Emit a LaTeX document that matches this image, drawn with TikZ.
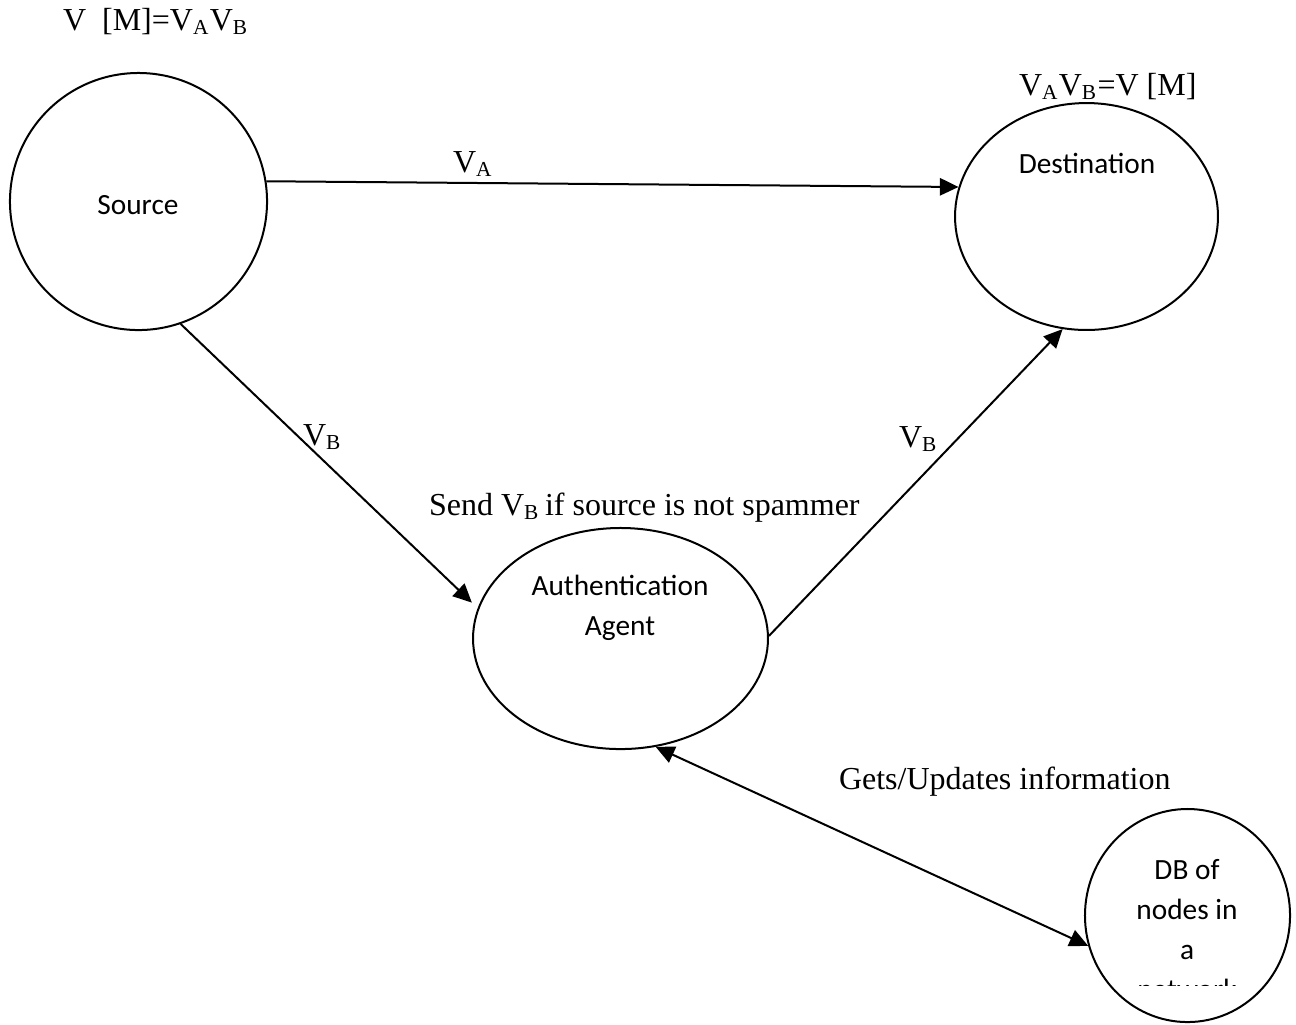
\documentclass[tikz,border=0pt]{standalone}
\usepackage{fontspec}
\setmainfont{Liberation Serif}
\newfontfamily\calibri{Carlito}
\usetikzlibrary{positioning, shapes.geometric, arrows.meta}

\begin{document}
\begin{tikzpicture}
		[x=0.375pt, y=-0.375pt, line width=0.75pt,
		 party/.style={draw, ellipse, inner sep=0pt},
		 flow/.style={-{Triangle[length=7pt, width=6.5pt]}},
		 sync/.style={{Triangle[length=7pt, width=6.5pt]}-{Triangle[length=7pt, width=6.5pt]}},
		 msg/.style={font=\fontsize{12}{14}\selectfont, inner sep=0pt},
		 inside/.style={font=\calibri\fontsize{11}{15}\selectfont, align=center, inner sep=0pt}]
		\useasboundingbox (0,0) rectangle (1296,1024);
		
		% the four parties
		\node[party, minimum width=96.4pt, minimum height=96.4pt] (src) at (138.5,201.5) {};
		\node[party, minimum width=98.6pt, minimum height=85.1pt] (dst) at (1086.5,216.5) {};
		\node[party, minimum width=110.6pt, minimum height=82.9pt] (auth) at (620.5,638.5) {};
		\node[party, minimum width=76.9pt, minimum height=79.9pt] (db) at (1187.5,915.5) {};
		
		\node[inside] (srcText) at (138,205) {Source};
		\node[inside] (dstText) at (1087,163) {Destination};
		\node[inside] (authText) at (620,608) {Authentication\\Agent};
		\begin{scope}
			\clip (1080,790) rectangle (1296,985);
			\node[inside] (dbText) at (1187,930) {DB of\\nodes in\\a\\network};
		\end{scope}
		
		% messages
		\draw[flow] (src.9) -- (dst.167);
		\draw[flow, shorten >=3pt] (src.-71) -- (auth.168);
		\draw[flow] (auth.1) -- (dst.-102);
		\draw[sync] (auth.-72) -- (db.-163);
		
		\node[msg, anchor=base west] (split) at (62,30) {V\ \ [M]=V\textsubscript{A}V\textsubscript{B}};
		\node[msg, anchor=base west] (join) at (1018,95) {V\textsubscript{A}V\textsubscript{B}=V [M]};
		\node[msg, anchor=base west] (partA) at (452,172) {V\textsubscript{A}};
		\node[msg, anchor=base west] (partB) at (302,445) {V\textsubscript{B}};
		\node[msg, anchor=base west] (fwdB) at (898,447) {V\textsubscript{B}};
		\node[msg, anchor=base west] (rule) at (428,515) {Send V\textsubscript{B}\,if source is not spammer};
		\node[msg, anchor=base west] (lookup) at (838,789) {Gets/Updates information};
	\end{tikzpicture}
\end{document}
